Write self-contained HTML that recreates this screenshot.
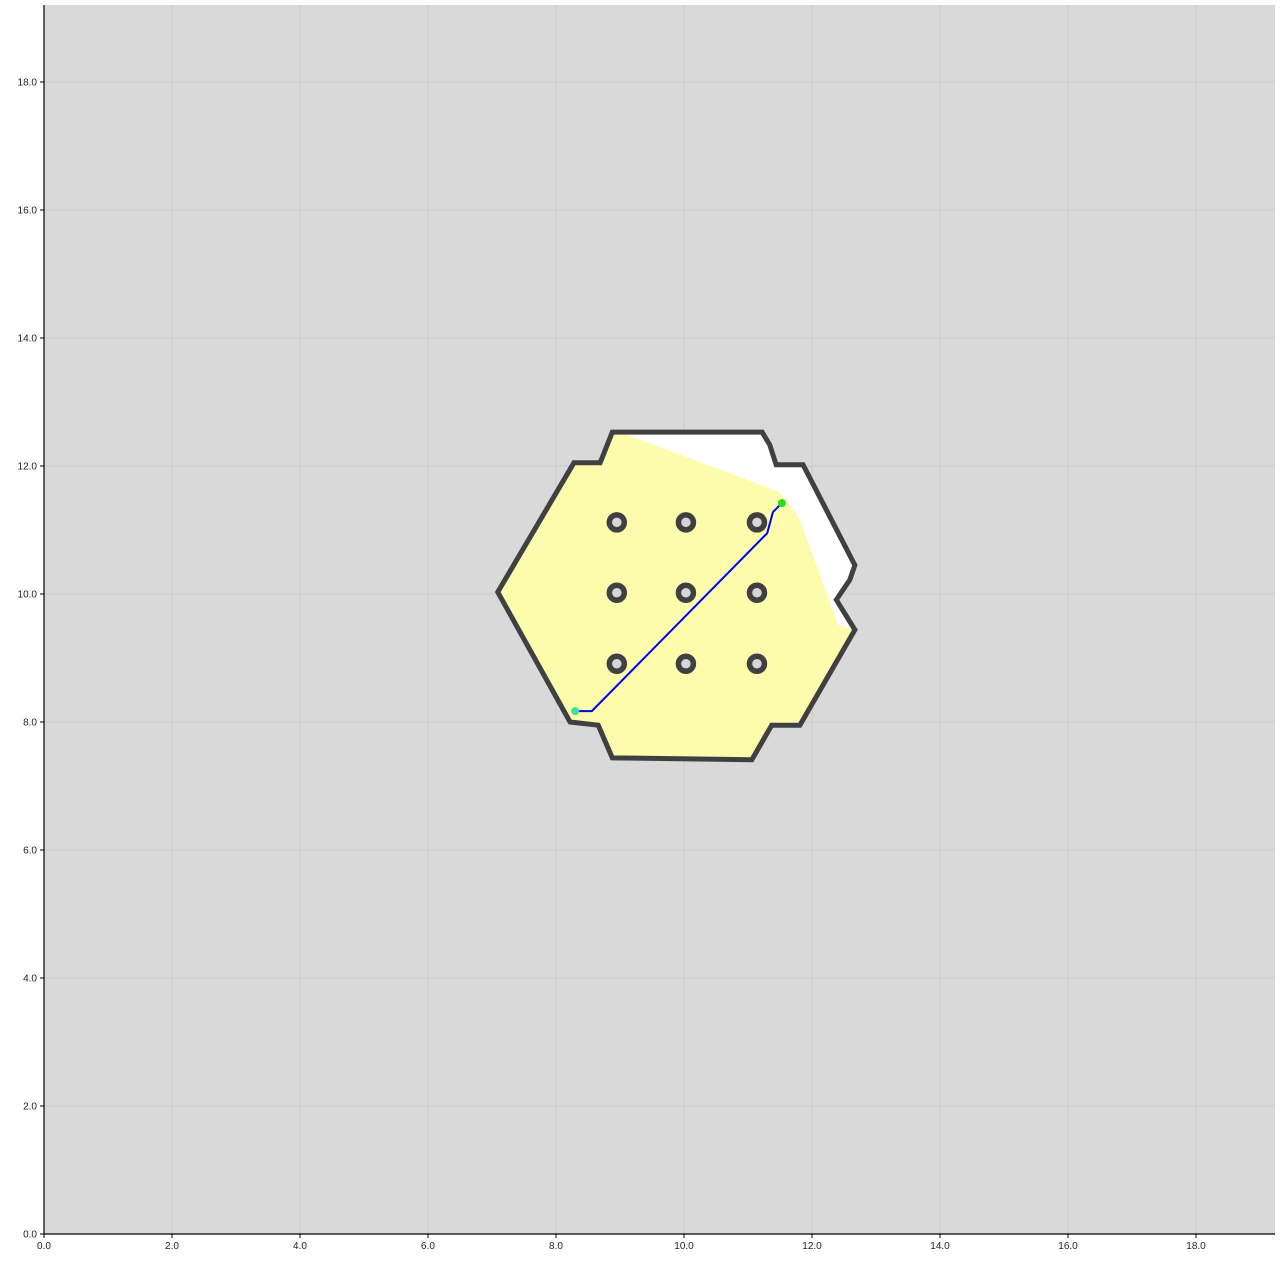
<!DOCTYPE html>
<html><head><meta charset="utf-8"><style>
html,body{margin:0;padding:0;background:#fff;}
svg{display:block;font-family:"Liberation Sans","DejaVu Sans",sans-serif;}
</style></head><body>
<svg id="chart" width="1280" height="1280"></svg>
<script>
const xTicks=[0,2,4,6,8,10,12,14,16,18];
const yTicks=[0,2,4,6,8,10,12,14,16,18];
const wallX=[8.88,11.22,11.34,11.44,11.86,12.67,12.59,12.38,12.67,11.81,11.37,11.06,8.88,8.66,8.22,7.09,8.28,8.69];
const wallY=[12.53,12.53,12.33,12.02,12.02,10.45,10.22,9.91,9.44,7.95,7.95,7.41,7.44,7.95,8.0,10.03,12.05,12.05];
const seenX=[8.88,9.0,10.25,11.5,11.81,12.41,12.67,11.81,11.37,11.06,8.88,8.66,8.22,7.09,8.28,8.69];
const seenY=[12.53,12.53,12.06,11.59,11.16,9.52,9.44,7.95,7.95,7.41,7.44,7.95,8.0,10.03,12.05,12.05];
const obsX=[8.95,10.03,11.14,8.95,10.03,11.14,8.95,10.03,11.14];
const obsY=[11.12,11.12,11.12,10.02,10.02,10.02,8.91,8.91,8.91];
const pathX=[8.30,8.56,11.30,11.39,11.53];
const pathY=[8.17,8.17,10.95,11.28,11.42];
const NS="http://www.w3.org/2000/svg";
const svg=document.getElementById('chart');
const L=44,B=1234,S=64,R=1275,T=5;
const sx=v=>L+v*S, sy=v=>B-v*S;
function mk(tag,attrs){const e=document.createElementNS(NS,tag);for(const k in attrs)e.setAttribute(k,attrs[k]);svg.appendChild(e);return e;}
let e=mk('rect',{x:L,y:T,width:R-L,height:B-T,fill:'#d9d9d9'});


xTicks.forEach(t=>{
 let g=mk('line',{x1:sx(t),x2:sx(t),y1:T,y2:B,stroke:'#c6c6c6','stroke-width':0.8});
 
 
 let tk=mk('line',{x1:sx(t),x2:sx(t),y1:B,y2:B+4,stroke:'#000'});
 
 
 let tx=mk('text',{x:sx(t),y:B+15,'font-size':10,'text-anchor':'middle',fill:'#222'});tx.textContent=t.toFixed(1);
 
 
});
yTicks.forEach(t=>{
 let g=mk('line',{x1:L,x2:R,y1:sy(t),y2:sy(t),stroke:'#c6c6c6','stroke-width':0.8});
 
 
 let tk=mk('line',{x1:L-4,x2:L,y1:sy(t),y2:sy(t),stroke:'#000'});
 
 
 let tx=mk('text',{x:L-7,y:sy(t)+3.5,'font-size':10,'text-anchor':'end',fill:'#222'});tx.textContent=t.toFixed(1);
 
 
});
const pts=(xs,ys)=>xs.map((x,i)=>sx(x)+','+sy(ys[i])).join(' ');
e=mk('polygon',{points:pts(wallX,wallY),fill:'#ffffff'});


e=mk('polygon',{points:pts(seenX,seenY),fill:'#fcfcac'});


e=mk('polygon',{points:pts(wallX,wallY),fill:'none',stroke:'#404040','stroke-width':5,'stroke-linejoin':'miter'});


obsX.forEach((x,i)=>{
 let c=mk('circle',{cx:sx(x),cy:sy(obsY[i]),r:7.5,fill:'#d6d6d6',stroke:'#404040','stroke-width':5.5});
 
 
});
e=mk('polyline',{points:pts(pathX,pathY),fill:'none',stroke:'#0000ee','stroke-width':2});


e=mk('circle',{cx:sx(pathX[0]),cy:sy(pathY[0]),r:4,fill:'#40e0a0'});


const n=pathX.length-1;
e=mk('circle',{cx:sx(pathX[n]),cy:sy(pathY[n]),r:4,fill:'#22dd22'});


e=mk('line',{x1:L,x2:L,y1:T,y2:B,stroke:'#000','stroke-width':1.2});


e=mk('line',{x1:L,x2:R,y1:B,y2:B,stroke:'#000','stroke-width':1.2});


</script>
</body></html>
